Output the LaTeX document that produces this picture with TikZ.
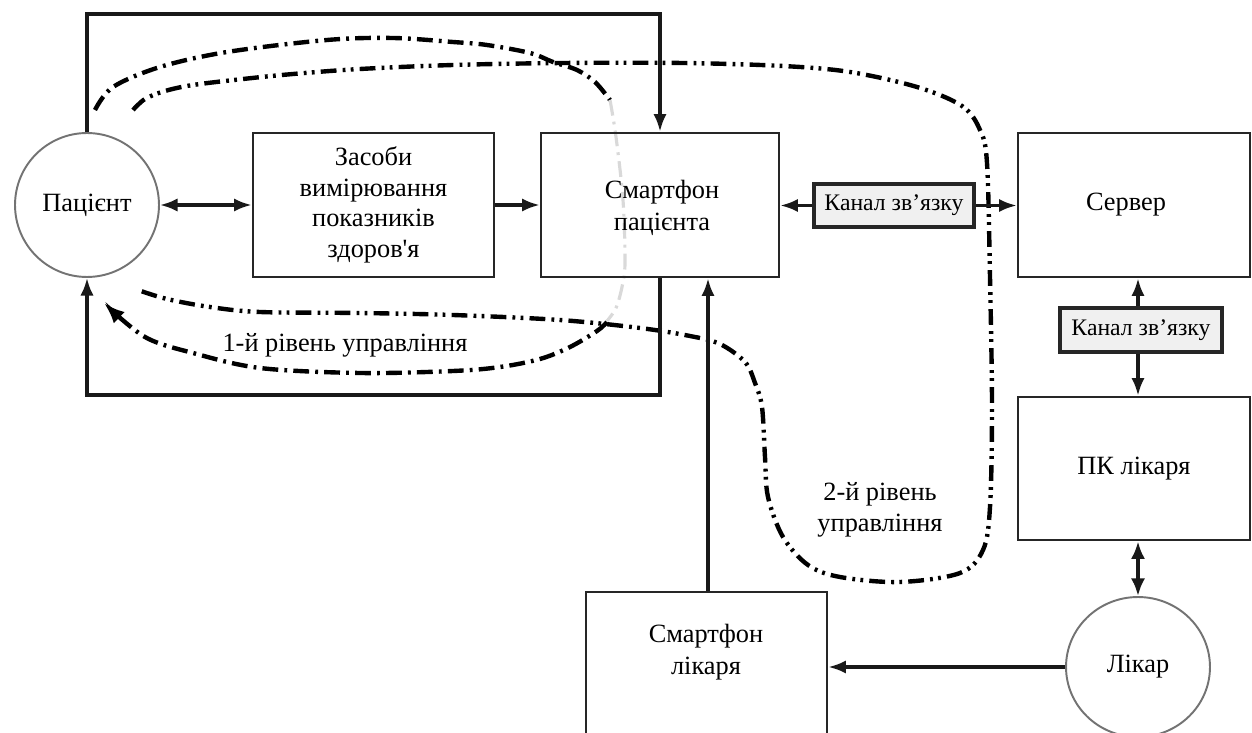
\documentclass[tikz,border=0pt]{standalone}
\usepackage{fontspec}
\setmainfont{Liberation Serif}
\usetikzlibrary{arrows.meta,shapes.geometric}

\begin{document}
\begin{tikzpicture}[x=0.02cm,y=-0.02cm,
  every node/.style={font=\fontsize{15}{17.5}\selectfont, align=center, inner sep=0pt},
  blk/.style={draw=black!85, line width=1.5pt},
  chan/.style={draw=black!85, line width=2pt, fill=gray!12, font=\fontsize{13.5}{16}\selectfont},
  person/.style={draw=black!55, line width=1.1pt, fill=white},
  arr/.style={line width=1.8pt, draw=black!90, -{Latex[length=10pt,width=7.5pt]}},
  dblarr/.style={line width=1.8pt, draw=black!90, {Latex[length=10pt,width=7.5pt]}-{Latex[length=10pt,width=7.5pt]}},
  lvlone/.style={line width=2.5pt, dash pattern=on 9pt off 3.5pt on 1.6pt off 3.5pt},
  lvltwo/.style={line width=2.5pt, dash pattern=on 9pt off 3.5pt on 1.6pt off 3pt on 1.6pt off 3.5pt},
  hidden/.style={line width=1.8pt, draw=gray!30, dash pattern=on 9pt off 3.5pt on 1.6pt off 3.5pt}
]
\useasboundingbox (0,0) rectangle (1252,733);

% control loops, drawn first so boxes sit on top
\draw[lvltwo] plot[smooth, tension=0.55] coordinates {
  (133,110) (145,99) (165,91) (193,85) (243,79) (293,74) (360,69) (453,65)
  (563,63) (683,63) (783,66) (850,72) (917,87) (962,106) (980,130) (987,163)
  (990,277) (992,407) (990,507) (983,550) (960,573) (900,582) (840,577)
  (808,565) (783,537) (768,497) (765,457) (762,407) (755,383) (745,362)
  (720,344) (690,336) (640,328) (560,320) (453,315) (360,313) (260,312)
  (210,307) (167,299) (138,290)};

\draw[lvlone] plot[smooth, tension=0.55] coordinates {
  (95,110) (113,87) (160,67) (227,52) (327,40) (393,38) (453,42) (487,45)
  (530,53) (553,62) (577,70) (595,82) (610,100)};

% part of the first loop passing behind the patient's smartphone
\draw[hidden] plot[smooth, tension=0.55] coordinates {
  (610,100) (616,137) (623,200) (625,263) (622,287) (616,308) (607,321)};

\draw[lvlone, -{Latex[length=12pt,width=9pt]}] plot[smooth, tension=0.55] coordinates {
  (607,322) (597,331) (570,347) (540,359) (500,367) (453,371) (360,373)
  (260,368) (193,353) (145,337) (104,303)};

% patient-side boxes
\node[person, circle, minimum size=2.88cm] (pat) at (87,205) {Пацієнт};
\node[blk, fill=white, minimum width=4.82cm, minimum height=2.88cm] (zas) at (373.5,205)
  {Засоби\\вимірювання\\показників\\здоров\textquotesingle я};
\node[blk, minimum width=4.76cm, minimum height=2.88cm] (smp) at (660,205) {};
\node[font=\fontsize{15}{18}\selectfont] (smpt) at (662,208) {Смартфон\\пацієнта};

% server side
\node[blk, fill=white, minimum width=4.64cm, minimum height=2.88cm] (srv) at (1134,205) {};
\node (srvt) at (1126,205) {Сервер};
\node[chan, minimum width=3.2cm, minimum height=0.86cm] (ch1) at (894,205.5) {Канал зв’язку};
\node[chan, minimum width=3.24cm, minimum height=0.88cm] (ch2) at (1141,330) {Канал зв’язку};
\node[blk, fill=white, minimum width=4.64cm, minimum height=2.86cm] (pk) at (1134,468.5) {ПК лікаря};
\node[person, ellipse, minimum width=2.88cm, minimum height=2.8cm] (lik) at (1138,667) {Лікар};
\node[blk, fill=white, minimum width=4.82cm, minimum height=3.06cm] (smd) at (706.5,668.5) {};
\node[font=\fontsize{15}{18}\selectfont] (smdt) at (706,652) {Смартфон\\лікаря};

% level labels
\node (l1) at (345,345) {1-й рівень управління};
\node[font=\fontsize{15}{18}\selectfont] (l2) at (880,510) {2-й рівень\\управління};

% connectors
\coordinate (tl) at (87,14);
\coordinate (bl) at (87,395);
\draw[arr] (pat.north) -- (tl) -| (smp.north);
\draw[arr] (smp.south) |- (bl) -- (pat.south);
\draw[dblarr] (pat.east) -- (zas.west);
\draw[arr] (zas.east) -- (smp.west);
\draw[arr] (ch1.west) -- (smp.east |- ch1.west);
\draw[arr] (ch1.east) -- (srv.west |- ch1.east);
\draw[arr] (ch2.north -| lik.north) -- (srv.south -| lik.north);
\draw[arr] (ch2.south -| lik.north) -- (pk.north -| lik.north);
\draw[line width=2.8pt, draw=black!90, {Latex[length=10pt,width=8pt]}-{Latex[length=10pt,width=8pt]}] (pk.south -| lik.north) -- (lik.north);
\draw[arr] (lik.west) -- (smd.east |- lik.west);
\draw[arr] (smd.north -| 708,0) -- (smp.south -| 708,0);
\end{tikzpicture}
\end{document}
